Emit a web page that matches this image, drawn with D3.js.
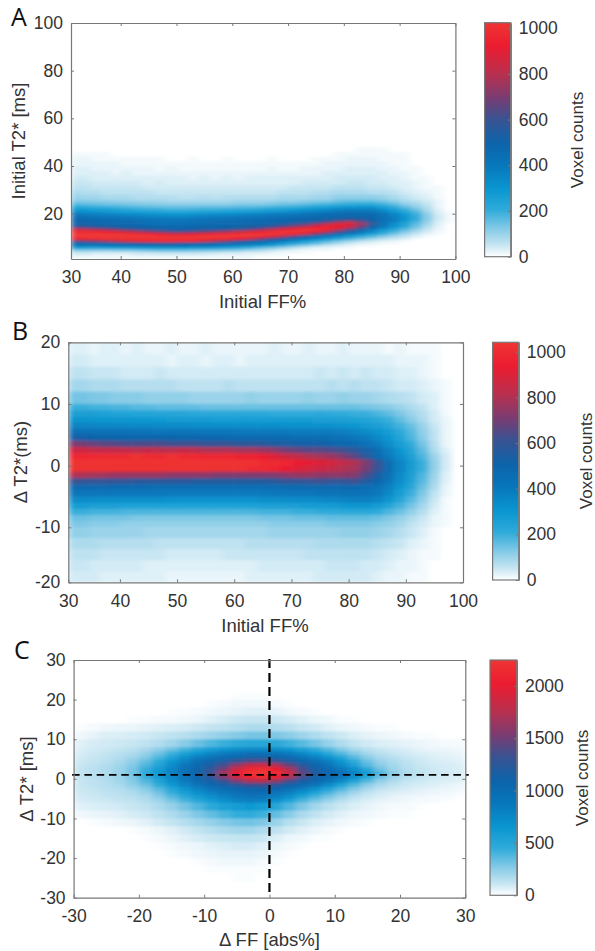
<!DOCTYPE html>
<html>
<head>
<meta charset="utf-8">
<script src="https://d3js.org/d3.v7.min.js"></script>
<style>
body { margin: 0; background: #fff; }
text { font-family: "Liberation Sans", Arial, sans-serif; fill: #333; }
.tick text { font-size: 17.5px; }
.panel-letter { font-family: "Open Sans", sans-serif; font-size: 25px; fill: #111; }
</style>
</head>
<body>
<svg id="chart" width="595" height="951"></svg>
<script>
// bin edges shared by panels A and B (Initial FF%)
const ffEdges = [30,32,34,36,38,40,42,44,46,48,50,52,54,56,58,60,62,64,66,68,70,72,74,76,78,80,82,84,86,88,90,92,94,96,98,100];

// Panel A, rows from top to bottom, counts / 10
const t2Edges = [50,48,46,44,42,40,38,36,34,32,30,28,26,25,24,23,22,21,20,19,18,17,16,15,14,13,12,11,10,9,8,7,6,5,4,3,2,1];
const heatA = [
[0,0,0,0,0,0,0,0,0,0,0,0,0,0,0,0,0,0,0,0,0,0,0,0,0,0,0,0,0,0,0,0,0,0,0],
[0,0,0,0,0,0,0,0,0,0,0,0,0,0,0,0,0,0,0,0,0,0,0,0,0,0,1,1,1,0,0,0,0,0,0],
[1,1,1,1,0,0,0,0,0,0,0,0,0,0,0,0,0,0,0,0,0,0,0,0,1,1,1,1,1,1,1,0,0,0,0],
[2,2,1,1,1,1,1,1,1,0,0,1,0,0,1,0,0,0,1,0,0,0,1,1,1,2,2,2,1,1,1,0,0,0,0],
[2,2,2,2,2,1,1,1,1,1,1,1,1,1,1,1,1,1,1,1,1,1,1,2,2,2,2,2,2,1,1,0,0,0,0],
[3,3,2,2,2,2,2,2,1,2,1,1,1,1,1,1,1,1,2,1,1,2,2,2,2,3,3,3,2,2,1,1,0,0,0],
[3,3,3,3,2,3,2,2,2,2,2,2,2,2,2,2,2,2,2,2,2,2,2,3,3,3,3,3,3,2,2,1,0,0,0],
[4,4,3,3,3,3,3,3,3,3,3,2,3,2,3,2,3,3,3,3,3,3,3,3,4,4,4,4,3,3,2,1,1,0,0],
[5,5,4,4,4,4,4,3,4,3,3,3,3,3,3,3,3,3,3,3,3,4,4,4,4,5,5,4,4,3,3,2,1,0,0],
[6,6,5,5,5,5,5,4,4,4,4,4,4,4,4,4,4,4,4,4,5,5,5,5,6,6,6,5,5,4,3,2,1,1,0],
[8,7,7,6,6,6,6,6,5,5,5,5,5,5,5,5,5,5,5,6,6,6,7,7,8,8,8,7,7,6,4,3,2,1,0],
[10,9,9,8,8,8,7,7,7,7,6,6,7,6,7,7,7,7,7,8,8,8,9,9,11,11,11,11,10,8,6,4,3,1,0],
[12,12,11,11,10,10,9,9,9,8,8,8,8,8,8,9,9,9,9,10,10,11,12,12,14,15,15,15,13,11,8,6,4,2,0],
[15,14,14,13,13,12,12,11,11,10,10,10,10,10,10,11,11,11,12,13,13,14,15,16,18,19,19,19,17,14,10,8,5,2,0],
[19,18,17,16,16,15,14,14,13,13,13,13,13,13,13,14,14,14,15,16,17,18,20,21,23,24,25,25,22,18,13,10,6,2,0],
[24,23,22,21,20,19,18,17,17,16,16,16,17,17,17,18,18,19,20,21,22,24,26,27,30,31,32,32,27,22,17,12,7,2,0],
[29,28,27,26,25,24,22,22,21,20,20,20,21,21,22,23,23,24,26,27,29,31,33,35,37,39,39,39,33,27,21,15,8,3,0],
[36,34,33,32,30,29,28,27,26,25,25,26,26,27,28,29,30,31,33,34,36,38,40,41,43,45,45,44,39,32,25,18,10,3,1],
[41,39,38,37,36,35,34,33,32,31,31,32,33,34,35,36,37,38,40,41,42,44,45,46,47,48,48,47,43,36,28,20,11,4,1],
[45,44,43,42,41,40,39,38,37,36,36,37,38,39,40,41,42,43,44,45,46,47,48,49,49,50,50,49,44,38,30,21,12,4,1],
[47,46,46,45,44,43,42,42,41,40,40,41,42,43,43,44,45,45,46,47,48,49,50,52,55,58,56,50,44,38,29,20,11,4,1],
[49,49,48,47,46,46,45,44,43,43,43,44,45,45,46,46,47,48,49,50,52,54,57,64,74,80,70,56,44,36,27,18,10,3,1],
[52,51,50,49,48,47,47,46,45,45,45,46,46,47,47,48,49,50,52,55,59,64,72,84,90,88,76,58,44,33,24,16,9,3,0],
[60,58,56,54,52,50,50,49,48,47,47,48,49,49,50,51,53,55,60,66,74,82,92,96,92,84,68,50,38,29,21,14,7,2,0],
[82,78,74,70,66,62,58,55,52,51,50,52,53,54,56,58,62,68,78,88,94,100,100,94,82,68,54,42,32,24,17,11,5,2,0],
[98,98,96,92,88,82,76,70,66,62,62,64,66,70,74,80,86,92,98,102,102,100,94,82,66,53,43,34,25,19,13,8,4,1,0],
[102,102,102,102,102,100,98,94,90,86,86,88,90,94,98,100,102,102,102,100,94,84,70,58,48,40,33,26,20,14,9,5,2,1,0],
[102,102,102,102,102,102,102,102,100,100,100,100,102,102,102,102,102,98,90,78,66,56,48,40,34,28,23,18,13,9,6,3,1,0,0],
[96,98,100,102,102,102,102,102,102,102,102,102,102,100,98,92,84,72,62,53,46,40,34,28,23,18,14,10,7,5,3,1,0,0,0],
[66,68,72,76,82,86,90,94,96,96,96,94,86,78,70,62,56,50,45,40,34,28,23,18,14,10,7,5,3,2,1,0,0,0,0],
[48,48,49,50,52,54,56,58,60,60,58,55,52,50,48,46,44,40,36,30,25,20,16,12,8,5,3,2,1,1,0,0,0,0,0],
[38,37,37,38,38,39,40,41,42,42,42,41,40,38,36,34,31,27,23,18,14,10,7,4,3,2,1,1,0,0,0,0,0,0,0],
[24,23,23,24,24,25,26,27,28,28,28,27,26,25,23,21,18,15,12,9,6,4,2,2,1,1,0,0,0,0,0,0,0,0,0],
[11,11,10,10,11,11,12,13,14,14,14,13,13,12,11,10,8,7,5,3,2,1,1,1,0,0,0,0,0,0,0,0,0,0,0],
[5,5,4,4,4,4,5,5,6,6,6,6,5,5,4,4,3,3,2,1,1,1,0,0,0,0,0,0,0,0,0,0,0,0,0],
[3,3,2,2,2,2,3,3,3,3,3,3,3,2,2,2,2,1,1,1,0,0,0,0,0,0,0,0,0,0,0,0,0,0,0],
[1,1,1,1,1,1,1,1,1,1,1,1,1,1,1,1,1,0,0,0,0,0,0,0,0,0,0,0,0,0,0,0,0,0,0]
];

// Panel B
const dT2Edges = [20,18,16,14,12,10,9,8,7,6,5,4,3,2,1,0,-1,-2,-3,-4,-5,-6,-7,-8,-9,-10,-12,-14,-16,-18,-20];
const heatB = [
[3,3,2,3,3,2,3,2,2,3,2,2,3,2,2,2,2,2,3,2,2,3,2,2,3,2,2,2,1,2,1,1,1,0,0],
[4,4,3,3,3,3,3,3,3,2,3,3,2,3,3,2,3,3,3,3,3,3,3,3,3,3,3,3,3,2,2,2,1,0,0],
[6,6,5,5,5,4,4,4,5,4,4,4,4,4,4,4,4,4,4,4,4,4,5,4,5,4,5,4,4,3,3,2,1,0,0],
[9,9,8,8,8,7,7,7,7,7,6,6,6,6,7,6,6,6,6,6,6,6,6,7,6,7,6,6,5,4,4,3,2,1,0],
[14,14,13,13,12,12,12,11,11,11,11,10,10,10,10,10,11,10,10,10,10,11,10,10,11,10,10,9,8,7,6,4,3,1,0],
[20,20,19,19,18,18,17,17,16,16,16,16,15,15,15,15,15,15,15,15,15,15,15,15,15,15,14,13,12,10,8,6,3,1,0],
[26,26,26,25,24,24,24,24,23,23,23,22,22,22,22,22,22,22,21,21,21,21,22,21,21,20,20,18,16,13,10,7,4,1,0],
[31,31,30,30,30,30,29,29,29,28,28,28,28,27,27,27,27,27,27,27,27,27,26,26,26,25,24,22,20,16,12,8,4,2,0],
[37,36,36,36,35,35,35,35,34,34,34,33,33,33,33,33,33,33,33,32,32,32,32,32,31,30,28,26,23,19,15,10,5,2,0],
[45,44,44,43,43,43,43,42,42,42,42,41,41,41,41,40,40,40,40,40,39,39,39,39,38,36,34,31,27,22,17,11,6,2,0],
[52,52,51,51,50,50,50,50,50,50,49,49,49,49,48,48,48,47,47,47,46,46,46,45,44,42,39,35,30,24,18,12,6,2,0],
[72,70,68,66,66,64,64,64,64,62,62,62,60,60,60,58,58,57,55,54,52,52,52,50,49,47,44,39,33,27,21,14,7,2,0],
[86,86,84,84,84,84,82,84,82,82,84,82,80,80,80,78,78,76,74,70,68,66,66,64,62,58,52,46,38,30,24,16,8,3,0],
[98,98,100,100,100,100,102,100,100,102,100,100,98,98,98,96,96,94,90,86,84,80,78,76,72,66,58,48,40,33,26,18,10,4,0],
[102,102,102,102,102,102,102,102,102,102,102,102,102,102,102,102,102,100,100,98,94,92,90,88,84,80,72,60,46,36,28,20,11,4,0],
[102,102,102,102,102,102,102,102,102,102,102,102,102,102,102,102,100,100,98,94,90,88,86,84,80,78,70,60,46,36,28,20,11,4,0],
[80,80,78,78,76,76,76,76,76,74,74,74,74,72,72,72,72,72,72,74,76,76,74,74,74,72,64,54,44,34,26,18,10,3,0],
[62,60,60,60,60,60,58,58,58,58,58,56,56,56,56,56,56,56,58,60,60,60,62,60,60,62,56,50,42,33,25,17,9,3,0],
[48,48,48,48,47,47,47,47,46,46,46,46,46,46,46,46,46,46,46,47,47,48,48,48,48,48,46,44,38,30,23,15,8,2,0],
[42,42,42,41,41,41,41,41,41,40,40,40,40,40,40,40,40,40,41,41,42,42,43,43,44,44,43,41,35,27,20,13,6,2,0],
[34,34,34,33,33,33,33,33,33,32,32,32,32,32,32,32,32,33,33,34,34,34,35,36,37,38,38,36,30,24,17,11,5,1,0],
[27,27,26,26,26,25,25,25,25,25,25,25,25,25,25,25,25,26,26,26,26,27,28,28,29,30,30,28,24,19,14,9,4,1,0],
[20,20,19,19,19,18,18,18,18,18,18,18,18,18,18,18,18,19,19,19,20,20,21,21,22,22,22,21,18,15,11,7,3,1,0],
[15,15,14,14,14,14,13,13,13,13,13,13,13,13,13,13,13,14,14,14,15,15,15,16,16,16,16,15,13,11,8,5,2,1,0],
[13,13,12,12,12,11,11,11,11,11,11,11,11,11,11,11,11,11,12,12,12,12,12,13,13,13,13,12,11,9,6,4,2,1,0],
[11,11,10,10,10,10,10,9,9,9,9,9,9,9,9,9,9,9,10,10,10,10,10,10,11,11,11,10,9,7,5,3,1,0,0],
[8,8,8,7,7,7,7,7,6,6,6,6,6,6,6,6,7,7,7,7,7,7,8,8,8,8,8,7,6,5,3,2,1,0,0],
[6,6,6,5,5,5,5,5,5,4,4,4,4,4,5,5,5,5,5,5,5,6,6,6,6,6,6,5,4,3,2,1,1,0,0],
[5,5,4,4,4,4,4,3,3,3,3,3,3,3,3,3,3,4,4,4,4,4,4,5,5,5,4,4,3,2,2,1,0,0,0],
[4,4,4,3,3,3,3,3,3,2,2,2,2,2,2,2,3,3,3,3,3,3,4,4,4,4,4,3,2,2,1,1,0,0,0]
];

// Panel C
const dFFEdges = [-30,-28,-26,-24,-22,-20,-18,-16,-14,-12,-10,-8,-6,-4,-2,0,2,4,6,8,10,12,14,16,18,20,22,24,26,28,30];
const dT2EdgesC = [22,20,18,16,14,12,10,8,7,6,5,4,3,2,1,0,-1,-2,-3,-4,-5,-6,-8,-10,-12,-14,-16,-18,-20,-22,-24,-26];
const heatC = [
[0,0,0,0,0,0,0,0,0,0,0,0,1,1,1,0,0,0,0,0,0,0,0,0,0,0,0,0,0,0],
[0,0,0,0,0,0,0,0,0,0,1,2,3,3,3,2,1,0,0,0,0,0,0,0,0,0,0,0,0,0],
[0,0,0,0,0,0,0,1,1,2,3,4,5,6,6,5,3,2,1,0,0,0,0,0,0,0,0,0,0,0],
[0,0,0,0,1,1,2,2,3,4,6,8,10,11,11,10,8,6,4,3,1,1,0,0,0,0,0,0,0,0],
[1,2,3,4,4,5,6,7,8,10,12,13,15,17,17,16,14,11,9,6,4,3,2,1,1,0,0,0,0,0],
[3,5,7,7,8,9,11,13,15,18,21,24,27,30,30,28,25,21,17,13,10,7,5,4,3,2,1,1,0,0],
[6,8,9,10,11,13,16,20,26,32,38,43,48,50,50,48,42,36,30,23,17,12,9,7,6,5,4,3,2,2],
[7,9,10,12,14,18,24,31,40,50,58,65,71,75,75,72,65,56,46,36,27,19,14,11,9,7,5,4,4,3],
[8,10,12,14,17,23,31,42,54,66,76,84,90,95,95,92,84,74,62,49,37,27,19,14,11,9,7,6,5,4],
[9,11,13,16,20,27,38,52,68,82,92,100,106,112,112,108,100,90,80,66,50,36,25,18,14,11,9,7,6,5],
[10,12,14,18,24,33,46,62,80,96,106,116,128,138,140,132,118,106,94,82,64,46,32,22,17,13,10,8,7,6],
[11,13,16,20,27,38,52,70,88,102,116,134,160,180,185,170,145,122,106,92,74,54,37,25,19,14,11,9,8,7],
[12,14,17,21,29,43,60,77,93,106,124,150,185,210,218,205,170,135,112,100,86,68,48,31,21,15,12,10,8,7],
[12,14,17,22,30,45,62,80,95,108,130,165,200,222,225,218,185,145,118,105,95,78,58,38,25,17,13,10,9,8],
[12,14,17,21,29,43,60,76,92,106,126,155,188,212,218,205,172,135,112,100,88,70,50,32,21,15,12,10,8,7],
[11,13,16,20,27,38,53,70,86,102,114,132,155,172,176,162,138,118,104,92,74,54,38,24,17,12,10,8,7,6],
[11,13,15,18,24,32,46,62,78,92,104,114,124,134,135,126,112,102,90,74,54,38,26,18,13,10,8,7,5,4],
[10,12,14,16,20,26,37,51,66,80,92,100,106,110,110,104,96,85,70,54,39,28,19,13,10,8,6,5,4,3],
[10,11,13,14,17,22,31,44,57,70,80,90,96,100,100,92,82,68,54,40,29,20,13,9,7,6,5,4,3,2],
[9,10,12,13,15,18,26,37,48,60,70,80,87,92,90,82,68,53,40,30,21,14,10,7,5,4,3,2,2,1],
[8,9,10,12,13,16,21,30,40,50,60,70,78,82,80,68,54,40,30,22,15,10,7,5,4,3,2,2,1,0],
[6,7,8,9,11,13,17,23,30,38,47,54,60,62,58,50,38,28,20,14,10,7,5,3,2,2,1,0,0,0],
[3,4,5,6,8,10,13,17,22,28,34,40,44,45,42,34,26,18,13,9,6,4,3,2,1,1,0,0,0,0],
[0,1,2,3,4,6,9,12,15,19,23,27,30,31,28,22,15,11,7,5,3,2,1,0,0,0,0,0,0,0],
[0,0,0,0,1,2,4,6,9,12,15,18,20,20,17,13,9,6,4,2,1,0,0,0,0,0,0,0,0,0],
[0,0,0,0,0,1,2,4,6,8,10,11,12,12,11,7,4,3,1,1,0,0,0,0,0,0,0,0,0,0],
[0,0,0,0,0,0,1,2,3,4,6,7,8,8,6,4,2,1,0,0,0,0,0,0,0,0,0,0,0,0],
[0,0,0,0,0,0,0,1,2,3,4,5,5,5,4,2,1,0,0,0,0,0,0,0,0,0,0,0,0,0],
[0,0,0,0,0,0,0,0,0,1,2,3,3,3,2,1,0,0,0,0,0,0,0,0,0,0,0,0,0,0],
[0,0,0,0,0,0,0,0,0,0,1,1,1,1,1,0,0,0,0,0,0,0,0,0,0,0,0,0,0,0],
[0,0,0,0,0,0,0,0,0,0,0,0,1,1,0,0,0,0,0,0,0,0,0,0,0,0,0,0,0,0]
];

// tick labels
const ffTicks = [30,40,50,60,70,80,90,100];
const t2Ticks = [20,40,60,80,100];
const dT2TicksB = [-20,-10,0,10,20];
const dFFTicks = [-30,-20,-10,0,10,20,30];
const dT2TicksC = [-30,-20,-10,0,10,20,30];
const countTicksAB = [0,200,400,600,800,1000];
const countTicksC = [0,500,1000,1500,2000];

// dashed reference lines of panel C
const refFF = 0;
const refT2 = 1;

// colormap, fraction of the colorbar max
const cmapStops = [0,0.05,0.12,0.2,0.29,0.39,0.49,0.59,0.68,0.78,0.9,1];
const cmapColors = ["#ffffff","#c6e5f2","#84cae6","#2fabda","#0a96d0","#0777bc","#0e63a9","#3a5292","#7a3c72","#b8304f","#ec1c30","#ee3534"];
const cmap = d3.scaleLinear().domain(cmapStops).range(cmapColors);

const svg = d3.select("#chart");
const defs = svg.append("defs");

const grad = defs.append("linearGradient").attr("id", "cbar-grad")
    .attr("x1", 0).attr("y1", 1).attr("x2", 0).attr("y2", 0);
cmapStops.forEach((s, i) => {
    grad.append("stop").attr("offset", s).attr("stop-color", cmapColors[i]);
});

const axisColor = "#777";

function styleAxis(g) {
    g.selectAll(".domain").attr("stroke", axisColor).attr("stroke-width", 1.2);
    g.selectAll(".tick line").attr("stroke", axisColor);
}

function drawPanel(p) {
    const g = svg.append("g");
    const xr = p.x.range(), yr = p.y.range();
    const x0 = xr[0], x1 = xr[xr.length - 1], y0 = yr[0], y1 = yr[yr.length - 1];

    defs.append("clipPath").attr("id", "clip" + p.letter)
        .append("rect").attr("x", x0).attr("y", y1).attr("width", x1 - x0).attr("height", y0 - y1);

    // the reference is a soft scan, so the cells get a small blur
    const blur = defs.append("filter").attr("id", "soft" + p.letter)
        .attr("x", 0).attr("y", 0).attr("width", "100%").attr("height", "100%");
    blur.append("feGaussianBlur").attr("stdDeviation", p.blur).attr("edgeMode", "duplicate");

    const cells = g.append("g").attr("clip-path", "url(#clip" + p.letter + ")")
        .append("g").attr("filter", "url(#soft" + p.letter + ")");
    cells.append("rect").attr("x", x0).attr("y", y1).attr("width", x1 - x0).attr("height", y0 - y1).attr("fill", "#fff");

    p.heat.forEach((row, r) => {
        cells.selectAll(null)
            .data(row)
            .enter().append("rect")
            .attr("x", (d, c) => p.x(p.xEdges[c]))
            .attr("width", (d, c) => p.x(p.xEdges[c + 1]) - p.x(p.xEdges[c]) + 0.5)
            .attr("y", p.y(p.yEdges[r]))
            .attr("height", p.y(p.yEdges[r + 1]) - p.y(p.yEdges[r]) + 0.5)
            .attr("fill", d => cmap(d * 10 / p.max));
    });

    if (p.letter === "C") {
        g.append("line").attr("x1", p.x(-30) - 1.5).attr("x2", p.x(30) + 3.5).attr("y1", p.y(refT2)).attr("y2", p.y(refT2))
            .attr("stroke", "#000").attr("stroke-width", 1.8).attr("stroke-dasharray", "7.5 4.8");
        g.append("line").attr("x1", p.x(refFF)).attr("x2", p.x(refFF)).attr("y1", p.y(30) - 1).attr("y2", p.y(-29))
            .attr("stroke", "#000").attr("stroke-width", 2.2).attr("stroke-dasharray", "9 5");
    }

    // box with inward ticks on all four sides, like the matlab axes
    g.append("g").attr("transform", "translate(0," + y0 + ")")
        .call(d3.axisBottom(p.x).tickValues(p.xTicks).tickSizeInner(-3).tickSizeOuter(0).tickPadding(12).tickFormat(String))
        .call(styleAxis);
    g.append("g").attr("transform", "translate(0," + y1 + ")")
        .call(d3.axisTop(p.x).tickValues(p.xTicks).tickSizeInner(-3).tickSizeOuter(0).tickFormat(""))
        .call(styleAxis);
    g.append("g").attr("transform", "translate(" + x0 + ",0)")
        .call(d3.axisLeft(p.y).tickValues(p.yTicks).tickSizeInner(-3).tickSizeOuter(0).tickPadding(8).tickFormat(String))
        .call(styleAxis);
    g.append("g").attr("transform", "translate(" + x1 + ",0)")
        .call(d3.axisRight(p.y).tickValues(p.yTicks).tickSizeInner(-3).tickSizeOuter(0).tickFormat(""))
        .call(styleAxis);

    g.append("text").attr("x", p.xLabelPos[0]).attr("y", p.xLabelPos[1])
        .attr("text-anchor", "middle").style("font-size", "18.5px").text(p.xLabel);
    g.append("text").attr("transform", "translate(" + p.yLabelPos[0] + "," + p.yLabelPos[1] + ") rotate(-90)")
        .attr("text-anchor", "middle").style("font-size", "18.5px").text(p.yLabel);
    g.append("text").attr("class", "panel-letter").attr("x", p.letterPos[0]).attr("y", p.letterPos[1]).text(p.letter);

    // colorbar
    const cb = p.cbar;
    const cy = d3.scaleLinear().domain([0, p.max]).range([cb.bottom, cb.top]);
    const bar = svg.append("g");
    bar.append("rect").attr("x", cb.left).attr("y", cb.top)
        .attr("width", cb.width).attr("height", cb.bottom - cb.top)
        .attr("fill", "url(#cbar-grad)");
    bar.append("g").attr("transform", "translate(" + (cb.left + cb.width) + ",0)")
        .call(d3.axisRight(cy).tickValues(p.countTicks).tickSizeInner(-3).tickSizeOuter(0).tickPadding(8).tickFormat(String))
        .call(styleAxis);
    bar.append("rect").attr("x", cb.left).attr("y", cb.top)
        .attr("width", cb.width).attr("height", cb.bottom - cb.top)
        .attr("fill", "none").attr("stroke", axisColor).attr("stroke-width", 1.2);
    bar.append("text").attr("transform", "translate(" + cb.labelX + "," + cb.labelY + ") rotate(-90)")
        .attr("text-anchor", "middle").style("font-size", "17px").text("Voxel counts");
}

drawPanel({
    letter: "A", heat: heatA, xEdges: ffEdges, yEdges: t2Edges, max: 1024, blur: "3 0.8",
    x: d3.scaleLinear().domain([30, 40, 100]).range([71, 120.7, 455.4]),
    y: d3.scaleLinear().domain([1, 100]).range([259, 23]),
    xTicks: ffTicks, yTicks: t2Ticks, countTicks: countTicksAB,
    xLabel: "Initial FF%", xLabelPos: [262.6, 308],
    yLabel: "Initial T2* [ms]", yLabelPos: [25, 141],
    letterPos: [11, 26],
    cbar: { left: 484.6, width: 26.2, top: 22.7, bottom: 256.7, labelX: 583, labelY: 140 }
});

drawPanel({
    letter: "B", heat: heatB, xEdges: ffEdges, yEdges: dT2Edges, max: 1042, blur: "3 1.4",
    x: d3.scaleLinear().domain([30, 40, 100]).range([68.3, 119.9, 463]),
    y: d3.scaleLinear().domain([-20, -10, 20]).range([582.3, 527.3, 342.3]),
    xTicks: ffTicks, yTicks: dT2TicksB, countTicks: countTicksAB,
    xLabel: "Initial FF%", xLabelPos: [265, 632],
    yLabel: "Δ T2*(ms)", yLabelPos: [26.6, 462],
    letterPos: [12, 340],
    cbar: { left: 492.6, width: 26.2, top: 342.3, bottom: 580, labelX: 592, labelY: 461 }
});

drawPanel({
    letter: "C", heat: heatC, xEdges: dFFEdges, yEdges: dT2EdgesC, max: 2247, blur: "3.2 1.3",
    x: d3.scaleLinear().domain([-30, 30]).range([73.6, 465.3]),
    y: d3.scaleLinear().domain([-30, 30]).range([897.7, 660]),
    xTicks: dFFTicks, yTicks: dT2TicksC, countTicks: countTicksC,
    xLabel: "Δ FF [abs%]", xLabelPos: [269.5, 946],
    yLabel: "Δ T2* [ms]", yLabelPos: [33.4, 779],
    letterPos: [14, 659],
    cbar: { left: 490, width: 26.9, top: 660, bottom: 895.3, labelX: 588, labelY: 778 }
});
</script>
</body>
</html>
